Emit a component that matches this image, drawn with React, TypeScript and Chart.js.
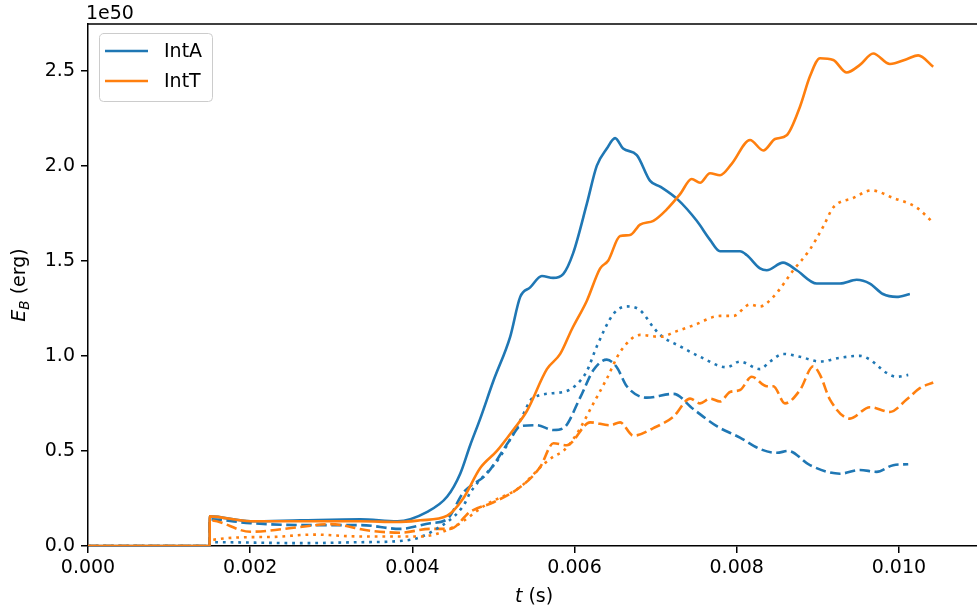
import React, { useEffect, useRef } from 'react';
import { Chart, registerables } from 'chart.js';

Chart.register(...registerables);

// ---------- data (t in s, E_B in units of 1e50 erg) ----------
const xTicks = [0, 0.002, 0.004, 0.006, 0.008, 0.01];
const yTicks = [0, 0.5, 1.0, 1.5, 2.0, 2.5];
const legendLabels = ['IntA', 'IntT'];
const offsetText = '1e50';

const intA_solid_t = [0, 0.0015, 0.001501, 0.002002, 0.002619, 0.003358, 0.003814, 0.004184, 0.00443, 0.00459, 0.004713, 0.004837, 0.005001, 0.005206, 0.00533, 0.005453, 0.005597, 0.005736, 0.00586, 0.005983, 0.006152, 0.006275, 0.006398, 0.0065, 0.006599, 0.006768, 0.006932, 0.007055, 0.007277, 0.007507, 0.007671, 0.007794, 0.00804, 0.008123, 0.008287, 0.00837, 0.008571, 0.008739, 0.008986, 0.009273, 0.009479, 0.009642, 0.009803, 0.009972, 0.010135];
const intA_solid_E = [0, 0, 0.156, 0.13, 0.135, 0.14, 0.13, 0.18, 0.26, 0.38, 0.53, 0.67, 0.87, 1.10, 1.31, 1.36, 1.42, 1.41, 1.43, 1.54, 1.80, 2.00, 2.09, 2.145, 2.09, 2.056, 1.92, 1.89, 1.82, 1.71, 1.61, 1.55, 1.55, 1.53, 1.46, 1.45, 1.49, 1.45, 1.38, 1.38, 1.40, 1.38, 1.325, 1.31, 1.325];

const intT_solid_t = [0, 0.0015, 0.001501, 0.002002, 0.002619, 0.003358, 0.003814, 0.004097, 0.00443, 0.004627, 0.004837, 0.005043, 0.005243, 0.005412, 0.005659, 0.005823, 0.005967, 0.006152, 0.006316, 0.006414, 0.006562, 0.006685, 0.006808, 0.006972, 0.007137, 0.007301, 0.007445, 0.007548, 0.007671, 0.007794, 0.007938, 0.008164, 0.008328, 0.008472, 0.008616, 0.00878, 0.008903, 0.009027, 0.00919, 0.009356, 0.009519, 0.009683, 0.009889, 0.010095, 0.010238, 0.010423];
const intT_solid_E = [0, 0, 0.156, 0.13, 0.13, 0.13, 0.126, 0.135, 0.16, 0.25, 0.41, 0.50, 0.61, 0.71, 0.93, 1.01, 1.14, 1.29, 1.46, 1.50, 1.63, 1.635, 1.69, 1.71, 1.77, 1.85, 1.93, 1.91, 1.96, 1.95, 2.01, 2.135, 2.08, 2.14, 2.16, 2.31, 2.47, 2.565, 2.556, 2.49, 2.53, 2.59, 2.535, 2.56, 2.58, 2.52];

const intA_dot_t = [0, 0.0015, 0.001501, 0.002619, 0.003358, 0.003937, 0.004258, 0.004627, 0.004713, 0.005083, 0.00533, 0.00549, 0.005863, 0.006028, 0.006152, 0.006275, 0.006479, 0.006644, 0.006808, 0.006972, 0.007055, 0.007301, 0.007548, 0.007877, 0.00804, 0.008287, 0.00841, 0.008575, 0.00878, 0.009027, 0.009273, 0.009519, 0.009642, 0.009849, 0.009972, 0.010115];
const intA_dot_E = [0, 0, 0.02, 0.015, 0.02, 0.03, 0.08, 0.21, 0.28, 0.47, 0.66, 0.78, 0.81, 0.85, 0.92, 1.05, 1.22, 1.26, 1.24, 1.15, 1.11, 1.05, 0.995, 0.94, 0.97, 0.93, 0.97, 1.01, 0.995, 0.97, 0.99, 1.00, 0.98, 0.91, 0.89, 0.90];

const intT_dot_t = [0, 0.0015, 0.001501, 0.002212, 0.002779, 0.003358, 0.004097, 0.004508, 0.004919, 0.00533, 0.005617, 0.00574, 0.005863, 0.006028, 0.006233, 0.006398, 0.006562, 0.006808, 0.007055, 0.007261, 0.007465, 0.007794, 0.007958, 0.008164, 0.008287, 0.008451, 0.008698, 0.008903, 0.009067, 0.00919, 0.009437, 0.009664, 0.00993, 0.010218, 0.010423];
const intT_dot_E = [0, 0, 0.03, 0.047, 0.06, 0.05, 0.05, 0.10, 0.22, 0.31, 0.43, 0.47, 0.50, 0.59, 0.75, 0.88, 1.02, 1.11, 1.10, 1.13, 1.16, 1.21, 1.21, 1.27, 1.26, 1.31, 1.45, 1.56, 1.68, 1.78, 1.83, 1.87, 1.83, 1.78, 1.70];

const intA_dash_t = [0, 0.0015, 0.001501, 0.002002, 0.002619, 0.003358, 0.003851, 0.004221, 0.004426, 0.004627, 0.004919, 0.005206, 0.00533, 0.005535, 0.00574, 0.005863, 0.006069, 0.006233, 0.006398, 0.006521, 0.006644, 0.006891, 0.007219, 0.007465, 0.007754, 0.00804, 0.008287, 0.008493, 0.008636, 0.008903, 0.009273, 0.009519, 0.009725, 0.00993, 0.010115];
const intA_dash_E = [0, 0, 0.14, 0.12, 0.11, 0.11, 0.09, 0.12, 0.14, 0.28, 0.38, 0.56, 0.63, 0.635, 0.61, 0.62, 0.78, 0.925, 0.98, 0.94, 0.84, 0.78, 0.80, 0.72, 0.63, 0.57, 0.51, 0.49, 0.50, 0.425, 0.38, 0.40, 0.39, 0.425, 0.43];

const intT_dash_t = [0, 0.0015, 0.001501, 0.002002, 0.002619, 0.002988, 0.003481, 0.003851, 0.004221, 0.004467, 0.004713, 0.005001, 0.00533, 0.005576, 0.00574, 0.005905, 0.006192, 0.006439, 0.006562, 0.006726, 0.006972, 0.007219, 0.007424, 0.007548, 0.007671, 0.007794, 0.007917, 0.00804, 0.008185, 0.00837, 0.008451, 0.008595, 0.00878, 0.008944, 0.009027, 0.00915, 0.009396, 0.009642, 0.009889, 0.010095, 0.010258, 0.010423];
const intT_dash_E = [0, 0, 0.135, 0.075, 0.10, 0.115, 0.08, 0.07, 0.09, 0.09, 0.18, 0.23, 0.31, 0.415, 0.54, 0.53, 0.65, 0.635, 0.65, 0.58, 0.62, 0.68, 0.775, 0.75, 0.775, 0.76, 0.81, 0.82, 0.89, 0.84, 0.84, 0.75, 0.82, 0.945, 0.90, 0.77, 0.67, 0.73, 0.705, 0.77, 0.83, 0.86];

// ---------- styles ----------
const BLUE = '#1f77b4';
const ORANGE = '#ff7f0e';
const FONT = '"DejaVu Sans", "Liberation Sans", sans-serif';
const LW = 2.6;
const DASHED = [10.5, 4.5];
const DOTTED = [2.8, 4.9];

const zip = (t: number[], e: number[]) => {
  const n = Math.min(t.length, e.length);
  const out: { x: number; y: number }[] = [];
  for (let i = 0; i < n; i++) out.push({ x: t[i], y: e[i] });
  return out;
};

const decor = {
  id: 'decor',
  afterDraw(chart: any) {
    const { ctx, chartArea: a } = chart;
    ctx.save();
    // top / right spines
    ctx.strokeStyle = '#000';
    ctx.lineWidth = 1.5;
    ctx.lineCap = 'square';
    ctx.beginPath();
    ctx.moveTo(a.left, a.top);
    ctx.lineTo(a.right, a.top);
    ctx.lineTo(a.right, a.bottom);
    ctx.stroke();

    ctx.fillStyle = '#000';
    // offset text
    ctx.font = `19px ${FONT}`;
    ctx.textAlign = 'left';
    ctx.textBaseline = 'alphabetic';
    ctx.fillText(offsetText, a.left - 2, 18.5);

    // x label: italic t + " (s)"
    const cx = (a.left + a.right) / 2;
    ctx.font = `italic 19px ${FONT}`;
    const wt = ctx.measureText('t').width;
    ctx.font = `19px ${FONT}`;
    const ws = ctx.measureText(' (s)').width;
    let x0 = cx - (wt + ws) / 2;
    ctx.font = `italic 19px ${FONT}`;
    ctx.fillText('t', x0, 602);
    ctx.font = `19px ${FONT}`;
    ctx.fillText(' (s)', x0 + wt, 602);

    // y label: E_B (erg)
    ctx.save();
    ctx.translate(25, (a.top + a.bottom) / 2);
    ctx.rotate(-Math.PI / 2);
    ctx.font = `italic 19px ${FONT}`;
    const wE = ctx.measureText('E').width;
    ctx.font = `italic 13.5px ${FONT}`;
    const wB = ctx.measureText('B').width;
    ctx.font = `19px ${FONT}`;
    const wR = ctx.measureText(' (erg)').width;
    let yx = -(wE + wB + wR) / 2;
    ctx.font = `italic 19px ${FONT}`;
    ctx.fillText('E', yx, 0);
    ctx.font = `italic 13.5px ${FONT}`;
    ctx.fillText('B', yx + wE, 4);
    ctx.font = `19px ${FONT}`;
    ctx.fillText(' (erg)', yx + wE + wB, 0);
    ctx.restore();

    // legend
    ctx.beginPath();
    (ctx as any).roundRect(99.5, 33.5, 113, 68, 4);
    ctx.fillStyle = 'rgba(255,255,255,0.8)';
    ctx.fill();
    ctx.strokeStyle = '#cccccc';
    ctx.lineWidth = 1;
    ctx.stroke();
    const colors = [BLUE, ORANGE];
    legendLabels.forEach((lab, i) => {
      const y = 51 + i * 30;
      ctx.strokeStyle = colors[i];
      ctx.lineWidth = LW;
      ctx.lineCap = 'butt';
      ctx.beginPath();
      ctx.moveTo(105, y);
      ctx.lineTo(148, y);
      ctx.stroke();
      ctx.fillStyle = '#000';
      ctx.font = `19px ${FONT}`;
      ctx.textBaseline = 'middle';
      ctx.fillText(lab, 164, y + 1);
    });
    ctx.restore();
  },
};

export default function App() {
  const ref = useRef<HTMLCanvasElement>(null);

  useEffect(() => {
    if (!ref.current) return;
    const mk = (data: any[], color: string, dash: number[]) => ({
      data,
      borderColor: color,
      backgroundColor: color,
      borderWidth: LW,
      borderDash: dash,
      borderCapStyle: dash.length ? 'butt' : 'butt',
      borderJoinStyle: 'round',
      pointRadius: 0,
      showLine: true,
      fill: false,
      cubicInterpolationMode: 'monotone',
    });
    const tickFont = { family: FONT, size: 19 };
    const chart = new Chart(ref.current, {
      type: 'scatter',
      data: {
        datasets: [
          mk(zip(intT_solid_t, intT_solid_E), ORANGE, []),
          mk(zip(intA_solid_t, intA_solid_E), BLUE, []),
          mk(zip(intT_dot_t, intT_dot_E), ORANGE, DOTTED),
          mk(zip(intA_dot_t, intA_dot_E), BLUE, DOTTED),
          mk(zip(intT_dash_t, intT_dash_E), ORANGE, DASHED),
          mk(zip(intA_dash_t, intA_dash_E), BLUE, DASHED),
        ] as any,
      },
      options: {
        animation: false,
        responsive: false,
        maintainAspectRatio: false,
        devicePixelRatio: 1,
        events: [],
        layout: { padding: { top: 24, right: 10, left: 0, bottom: 0 } },
        plugins: { legend: { display: false }, tooltip: { enabled: false }, title: { display: false } },
        scales: {
          x: {
            type: 'linear',
            position: 'bottom',
            min: 0,
            max: 0.011,
            grid: { display: true, drawOnChartArea: false, drawTicks: true, tickLength: 7, color: '#000', lineWidth: 1.5 },
            border: { display: true, color: '#000', width: 1.5 },
            ticks: {
              font: tickFont,
              color: '#000',
              padding: 4,
              maxRotation: 0,
              autoSkip: false,
              callback: (v: any) => Number(v).toFixed(3),
            },
            afterBuildTicks: (s: any) => {
              s.ticks = xTicks.map((v) => ({ value: v }));
            },
            afterFit: (s: any) => {
              s.height = 65;
            },
          },
          y: {
            type: 'linear',
            min: 0,
            max: 2.745,
            grid: { display: true, drawOnChartArea: false, drawTicks: true, tickLength: 7, color: '#000', lineWidth: 1.5 },
            border: { display: true, color: '#000', width: 1.5 },
            ticks: {
              font: tickFont,
              color: '#000',
              padding: 6,
              autoSkip: false,
              callback: (v: any) => Number(v).toFixed(1),
            },
            afterBuildTicks: (s: any) => {
              s.ticks = yTicks.map((v) => ({ value: v }));
            },
            afterFit: (s: any) => {
              s.width = 88;
            },
          },
        },
      } as any,
      plugins: [decor],
    });
    return () => chart.destroy();
  }, []);

  return (
    <div style={{ position: 'absolute', left: 0, top: 0, width: 977, height: 611, overflow: 'hidden', background: '#fff' }}>
      <canvas ref={ref} width={990} height={611} style={{ width: 990, height: 611, display: 'block' }} />
    </div>
  );
}
